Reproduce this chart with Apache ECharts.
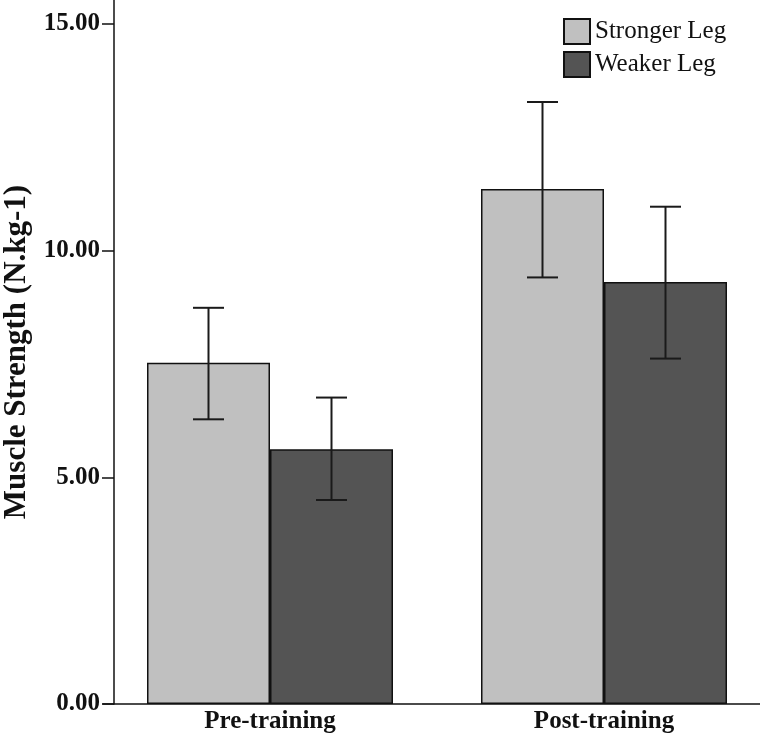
<!DOCTYPE html>
<html><head><meta charset="utf-8">
<script src="https://cdn.jsdelivr.net/npm/echarts@6/dist/echarts.min.js"></script>
<style>html,body{margin:0;padding:0;background:#fff}#c{width:760px;height:735px}</style>
</head><body><div id="c"></div>
<script>
const categories = ['Pre-training', 'Post-training'];
const seriesNames = ['Stronger Leg', 'Weaker Leg'];
const strongerMean = [7.53, 11.36];
const strongerLow = [6.28, 9.41];
const strongerHigh = [8.74, 13.28];
const weakerMean = [5.62, 9.31];
const weakerLow = [4.50, 7.62];
const weakerHigh = [6.76, 10.97];
const yTicks = [0, 5, 10, 15];

const serif = 'Liberation Serif';
const BAR_W = 123;

function errRender(offset) {
  return function (params, api) {
    const x = api.value(0), lo = api.value(1), hi = api.value(2);
    const pLo = api.coord([x, lo]);
    const pHi = api.coord([x, hi]);
    const cx = pLo[0] + offset;
    const hw = 15.5;
    const style = { stroke: '#1a1a1a', lineWidth: 2 };
    return {
      type: 'group',
      children: [
        { type: 'line', shape: { x1: cx, y1: pHi[1], x2: cx, y2: pLo[1] }, style },
        { type: 'line', shape: { x1: cx - hw, y1: pHi[1], x2: cx + hw, y2: pHi[1] }, style },
        { type: 'line', shape: { x1: cx - hw, y1: pLo[1], x2: cx + hw, y2: pLo[1] }, style }
      ]
    };
  };
}

const chart = echarts.init(document.getElementById('c'), null, { renderer: 'canvas' });
chart.setOption({
  backgroundColor: '#ffffff',
  animation: false,
  grid: { left: 103, top: 0, width: 668, height: 704, containLabel: false, outerBoundsMode: 'none' },
  legend: {
    data: seriesNames,
    orient: 'vertical',
    left: 558,
    top: 13,
    itemWidth: 26,
    itemHeight: 25,
    itemGap: 6,
    icon: 'rect',
    textStyle: { fontFamily: serif, fontSize: 25, color: '#111', lineHeight: 25 }
  },
  xAxis: {
    type: 'category',
    data: categories,
    axisLine: { lineStyle: { color: '#111', width: 1.5 } },
    axisTick: { show: false },
    axisLabel: { fontFamily: serif, fontWeight: 'bold', fontSize: 25, color: '#111', margin: 5 }
  },
  yAxis: {
    type: 'value',
    min: 0,
    max: 15.53,
    offset: -11,
    name: 'Muscle Strength (N.kg-1)',
    nameLocation: 'middle',
    nameGap: 81,
    nameTextStyle: { fontFamily: serif, fontWeight: 'bold', fontSize: 31, color: '#111' },
    axisLine: { show: true, lineStyle: { color: '#111', width: 1.5 } },
    axisTick: { show: true, length: 12, customValues: yTicks, lineStyle: { color: '#111', width: 1.5 } },
    axisLabel: {
      customValues: yTicks,
      fontFamily: serif, fontWeight: 'bold', fontSize: 25, color: '#111', margin: 14,
      formatter: v => Number(v).toFixed(2)
    },
    splitLine: { show: false }
  },
  series: [
    {
      name: seriesNames[0], type: 'bar', data: strongerMean, barWidth: BAR_W, barGap: '0%',
      itemStyle: { color: '#c0c0c0', borderColor: '#111', borderWidth: 1.5 }
    },
    {
      name: seriesNames[1], type: 'bar', data: weakerMean, barWidth: BAR_W, barGap: '0%',
      itemStyle: { color: '#545454', borderColor: '#111', borderWidth: 1.5 }
    },
    {
      type: 'custom', z: 10, renderItem: errRender(-BAR_W / 2),
      encode: { x: 0, y: [1, 2] },
      data: categories.map((c, i) => [i, strongerLow[i], strongerHigh[i]])
    },
    {
      type: 'custom', z: 10, renderItem: errRender(BAR_W / 2),
      encode: { x: 0, y: [1, 2] },
      data: categories.map((c, i) => [i, weakerLow[i], weakerHigh[i]])
    }
  ]
});
</script>
</body></html>
